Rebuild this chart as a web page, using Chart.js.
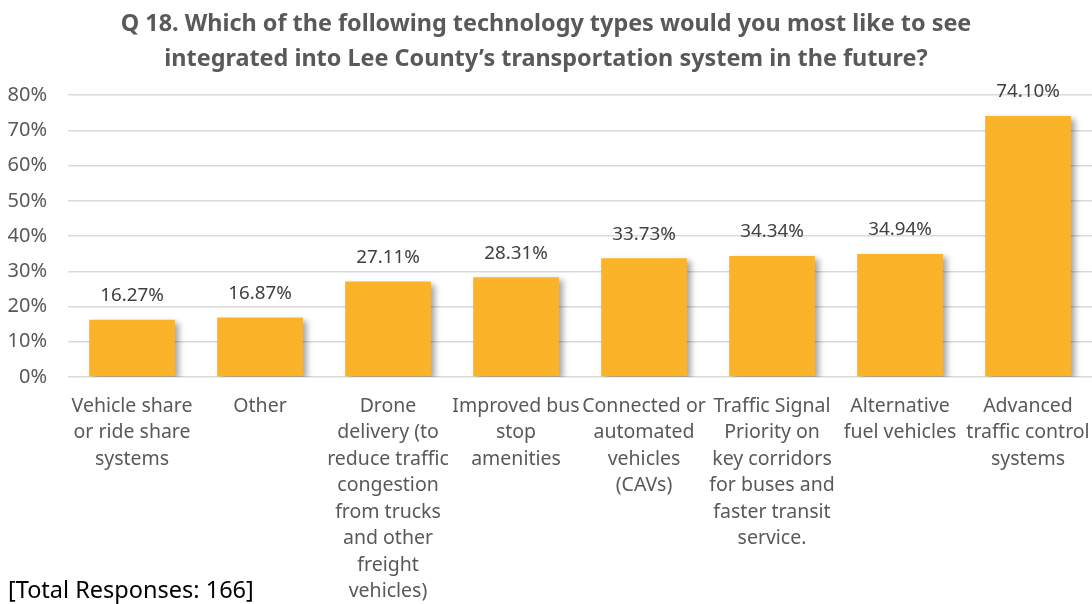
<!DOCTYPE html>
<html>
<head>
<meta charset="utf-8">
<script src="https://cdn.jsdelivr.net/npm/chart.js@4"></script>
<style>
  html, body { margin: 0; padding: 0; background: #fff; }
  #wrap { position: relative; width: 1092px; height: 604px; }
  #note {
    position: absolute; left: 8px; top: 574px;
    font-family: "Noto Sans", sans-serif; font-size: 23.5px; color: #000;
    line-height: 30px;
  }
</style>
</head>
<body>
<div id="wrap">
  <canvas id="chart" width="1092" height="604"></canvas>
  <div id="note">[Total Responses: 166]</div>
</div>
<script>
const titleLines = [
    "Q 18. Which of the following technology types would you most like to see",
    "integrated into Lee County\u2019s transportation system in the future?"
];

const categories = [
    ["Vehicle share", "or ride share", "systems"],
    ["Other"],
    ["Drone", "delivery (to", "reduce traffic", "congestion", "from trucks", "and other", "freight", "vehicles)"],
    ["Improved bus", "stop", "amenities"],
    ["Connected or", "automated", "vehicles", "(CAVs)"],
    ["Traffic Signal", "Priority on", "key corridors", "for buses and", "faster transit", "service."],
    ["Alternative", "fuel vehicles"],
    ["Advanced", "traffic control", "systems"]
];

const percents = [16.27, 16.87, 27.11, 28.31, 33.73, 34.34, 34.94, 74.10];

const yTicks = [0, 10, 20, 30, 40, 50, 60, 70, 80];

const fontName = "'Noto Sans', sans-serif";

// bar shadow like the office chart
const shadowPlugin = {
    id: "barShadow",
    beforeDatasetsDraw(chart) {
        const c = chart.ctx;
        c.save();
        c.shadowColor = "rgba(0,0,0,0.35)";
        c.shadowBlur = 6;
        c.shadowOffsetX = 4;
        c.shadowOffsetY = 3;
    },
    afterDatasetsDraw(chart) {
        chart.ctx.restore();
    }
};

// value labels over the bars
const valueLabels = {
    id: "valueLabels",
    afterDatasetsDraw(chart) {
        const c = chart.ctx;
        const meta = chart.getDatasetMeta(0);
        c.save();
        c.font = "18.8px " + fontName;
        c.fillStyle = "#404040";
        c.textAlign = "center";
        c.textBaseline = "middle";
        meta.data.forEach((bar, i) => {
            c.fillText(percents[i].toFixed(2) + "%", bar.x, bar.y - 24);
        });
        c.restore();
    }
};

const ctx = document.getElementById("chart").getContext("2d");

new Chart(ctx, {
    type: "bar",
    data: {
        labels: categories,
        datasets: [{
            data: percents,
            backgroundColor: "#FBB42A",
            borderWidth: 0,
            categoryPercentage: 1,
            barPercentage: 0.67
        }]
    },
    options: {
        responsive: false,
        animation: false,
        layout: { padding: { left: 0, right: 0, top: 0, bottom: 0 } },
        plugins: {
            legend: { display: false },
            tooltip: { enabled: false },
            title: {
                display: true,
                text: titleLines,
                color: "#595959",
                font: { family: fontName, size: 23.4, weight: "bold", lineHeight: 1.5 },
                padding: { top: 7, bottom: 18 }
            }
        },
        scales: {
            x: {
                grid: { display: false },
                border: { display: false },
                ticks: {
                    color: "#595959",
                    font: { family: fontName, size: 19.5, lineHeight: 1.36 },
                    maxRotation: 0,
                    autoSkip: false,
                    padding: 8
                },
                afterFit(scale) {
                    scale.height = 227;
                    scale.paddingLeft = 0;
                    scale.paddingRight = 0;
                }
            },
            y: {
                min: 0,
                max: 80,
                afterBuildTicks(scale) {
                    scale.ticks = yTicks.map(v => ({ value: v }));
                },
                grid: { color: "#D9D9D9", lineWidth: 1.5, drawTicks: false },
                border: { display: false },
                ticks: {
                    color: "#595959",
                    font: { family: fontName, size: 20 },
                    padding: 21,
                    callback: v => v + "%"
                },
                afterFit(scale) { scale.width = 68; }
            }
        }
    },
    plugins: [shadowPlugin, valueLabels]
});
</script>
</body>
</html>
